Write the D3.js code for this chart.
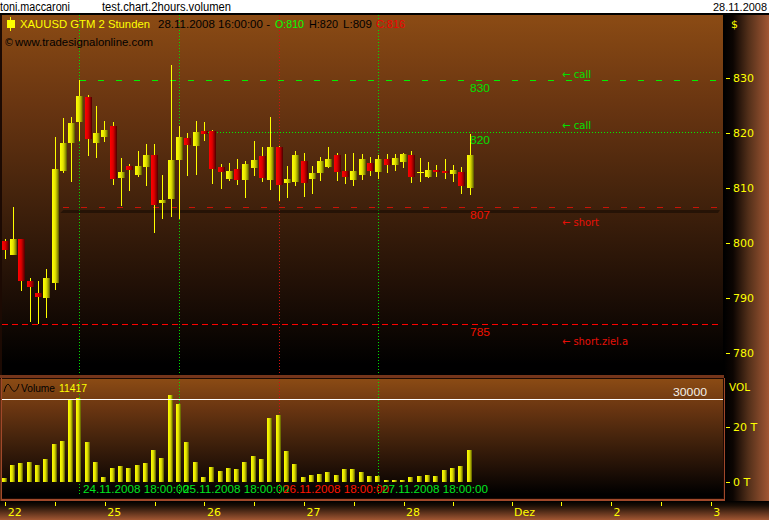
<!DOCTYPE html>
<html><head><meta charset="utf-8">
<script src="https://cdnjs.cloudflare.com/ajax/libs/d3/7.8.5/d3.min.js"></script>
<style>html,body{margin:0;padding:0;background:#fff;overflow:hidden}svg{display:block}text{font-family:"DejaVu Sans";font-size:11px}</style>
</head><body><svg id="c" width="769" height="520"></svg>
<script>
const opens =[800.4,797.8,800.7,793.1,790.9,790.0,792.7,813.1,818.2,822.0,826.5,818.2,819.3,821.3,811.8,814.0,812.4,813.8,816.0,807.3,808.0,815.1,819.1,817.6,820.4,820.4,813.8,811.6,813.5,811.5,813.6,815.8,811.5,817.5,810.9,811.1,814.9,811.6,812.7,813.8,816.0,813.1,811.5,812.4,814.5,812.9,815.3,814.2,814.7,816.0,812.8,812.0,813.3,813.1,812.5,812.9,810.0];
const closes=[798.7,800.7,793.1,792.0,790.2,793.6,813.5,818.2,821.8,826.7,818.9,820.0,820.5,811.6,812.9,813.3,814.0,816.0,806.9,807.8,815.1,819.3,817.8,820.2,819.8,813.5,812.9,813.1,811.5,814.4,815.1,811.8,817.5,810.5,811.6,816.0,810.9,812.7,814.9,815.3,812.9,812.0,813.1,815.3,813.1,815.3,814.2,815.5,816.2,812.0,812.9,813.3,812.9,812.7,813.3,810.4,816.0];
const highs =[800.8,806.5,800.8,793.6,793.1,795.3,819.3,822.7,822.9,829.6,826.9,824.9,822.2,822.0,815.5,814.4,816.7,818.0,818.0,812.4,832.4,821.3,820.0,822.2,822.0,820.5,814.4,814.5,815.3,814.9,818.5,817.5,822.9,817.6,814.0,816.7,816.4,814.0,815.6,817.5,816.4,816.2,816.4,816.2,815.6,816.0,816.2,816.2,816.4,816.7,815.5,814.7,814.2,815.3,814.2,813.8,819.8];
const lows  =[797.1,797.8,791.3,785.6,785.3,786.4,791.5,812.7,811.1,818.5,815.8,815.5,818.4,810.5,806.7,809.5,812.0,810.4,801.8,804.4,804.7,804.4,812.2,812.4,818.5,810.7,809.8,811.3,810.5,808.2,812.2,811.1,809.6,807.6,808.2,810.4,808.4,808.9,811.3,813.6,811.3,810.7,810.4,811.5,812.2,811.6,812.7,813.1,813.6,810.9,811.1,811.8,812.0,811.6,811.1,808.9,808.7];
const volumes=[1500,6200,6900,7300,6200,8400,13800,14900,29800,30500,14500,7300,1800,5100,5800,5100,6200,6900,11600,8700,31600,28400,14500,7300,1800,5500,4000,5100,4700,7300,9500,8400,23300,24400,11300,6500,1800,2500,2900,3600,2500,4700,4700,3600,2200,2200,700,700,700,1800,2200,2500,2200,4400,5100,5800,11417];

const priceTicks=[780,790,800,810,820,830];
const volTicks=[0,20000];
const timeTickIdx=[0,6,12,18,24,30,36,42,48,54,61,67,73,79,85];
const timeTickLabels=["22","","25","","26","","27","","28","","Dez","","2","","3"];
const levels=[829.6,820.1,806.5,785.2];
const levelLabels=["830","820","807","785"];
const levelStartIdx=[9,23,7,-0.4];
const levelColors=["#00f000","#00f000","#c81408","#ff0000"];
const levelDash=["6 12","1 2","6 12","6 4"];
const levelNotes=["← call","← call","← short","← short.ziel.a"];
const sessionIdx=[9,21,33,45];
const sessionLabels=["24.11.2008 18:00:00","25.11.2008 18:00:00","26.11.2008 18:00:00","27.11.2008 18:00:00"];
const sessionColors=["#00e620","#00e620","#ff1400","#00e620"];
const volumeLimit=30000;

const svg=d3.select("#c");
const x=d3.scaleLinear().domain([0,85]).range([5.2,710.7]);
const px=i=>Math.floor(x(i));
const y=d3.scaleLinear().domain([780,830]).range([353,78]);
const yv=d3.scaleLinear().domain([0,30000]).range([481.7,399.2]);

const defs=svg.append("defs");
function grad(id,x2,y2,stops){
  const g=defs.append("linearGradient").attr("id",id).attr("x1",0).attr("y1",0).attr("x2",x2).attr("y2",y2);
  stops.forEach(s=>g.append("stop").attr("offset",s[0]).attr("stop-color",s[1]));
}
const panelStops=[[0,"#8b4b14"],[.25,"#693511"],[.5,"#44230c"],[.75,"#211006"],[.97,"#000"]];
grad("panel",0,1,panelStops);
grad("side",1,0,[[0,"#000"],[.2,"#0c0502"],[.55,"#54301a"],[1,"#a25733"]]);
grad("bottom",0,1,[[0,"#000"],[.25,"#1c0f06"],[1,"#a25733"]]);
grad("yel",1,0,[[0,"#ffff00"],[.45,"#e4e400"],[.75,"#a0a000"],[1,"#505000"]]);
grad("red",1,0,[[0,"#ff0000"],[.45,"#dc0000"],[.75,"#900000"],[1,"#480000"]]);

const LIB="Liberation Sans";
const rect=(g,a,b,w,h,f)=>g.append("rect").attr("x",a).attr("y",b).attr("width",w).attr("height",h).attr("fill",f).attr("shape-rendering","crispEdges");
const txt=(g,a,b,s,f,o={})=>{const t=g.append("text").attr("x",a).attr("y",b).attr("fill",f).text(s);
  if(o.len)t.attr("textLength",o.len).attr("lengthAdjust","spacingAndGlyphs");
  if(o.font)t.style("font-family",o.font); if(o.size)t.style("font-size",o.size+"px"); return t;};

// frame
rect(svg,0,0,769,13,"#fff");
rect(svg,0,13,769,2,"#000");
rect(svg,0,15,769,486,"#5e2c12");
rect(svg,0,15,2,360,"#1c0a03");
rect(svg,724,15,45,486,"url(#side)");
rect(svg,2,15,721,360,"url(#panel)");
rect(svg,723,15,1,360,"#000");
rect(svg,0,375,724,3,"#75351a");
rect(svg,0,378,725,1,"#1c0a03");
rect(svg,1,378,724,123,"#a0482a");
rect(svg,2,378,722,121,"#1c0a03");
rect(svg,2,379,721,119,"url(#panel)");
rect(svg,0,501,769,19,"url(#bottom)");

// header strip text
txt(svg,0,10.5,"toni.maccaroni","#000",{font:LIB,size:12,len:70});
txt(svg,102,10.5,"test.chart.2hours.volumen","#000",{font:LIB,size:12,len:129});
txt(svg,713,10.5,"28.11.2008","#000",{font:LIB,size:11,len:54});

// session verticals
const vert=svg.append("g");
sessionIdx.forEach((d,k)=>{
  [[15,375],[379,495]].forEach(r=>vert.append("line").attr("x1",px(d)+.5).attr("x2",px(d)+.5).attr("y1",r[0]).attr("y2",r[1])
    .attr("stroke",k==2?"#d21010":"#00e000").attr("stroke-dasharray","1 2").attr("shape-rendering","crispEdges"));
});

// shadow band below the 807 level
const bandY=y(806.0);
svg.append("path").attr("d",d3.line()([[x(levelStartIdx[2])-3,bandY+3],[x(levelStartIdx[2]),bandY],[720,bandY],[718,bandY+3]])+"Z").attr("fill","#000").attr("fill-opacity",.38);

// levels
const lv=svg.append("g");
levels.forEach((v,k)=>{
  lv.append("line").attr("x1",x(levelStartIdx[k])).attr("x2",720).attr("y1",Math.round(y(v))+.5).attr("y2",Math.round(y(v))+.5)
    .attr("stroke",levelColors[k]).attr("stroke-dasharray",levelDash[k]).attr("shape-rendering","crispEdges");
});

// candles
const candles=svg.append("g");
opens.forEach((o,i)=>{
  const c=closes[i],up=c>=o,cx=px(i);
  rect(candles,cx,Math.round(y(highs[i])),1,Math.round(y(lows[i]))-Math.round(y(highs[i])),"#ffff00");
  const t=Math.round(y(Math.max(o,c))),b=Math.round(y(Math.min(o,c)));
  rect(candles,cx-3,t,7,Math.max(1,b-t),up?(b-t<=1?"#ffff00":"url(#yel)"):"url(#red)");
});

// volume
const vb=svg.append("g");
volumes.forEach((v,i)=>{
  const cx=px(i),t=Math.round(yv(v));
  rect(vb,cx-3,t,5,482-t,"url(#yel)");
});
rect(svg,2,Math.round(yv(volumeLimit)),721,1,"#fff");
txt(svg,673,396,volumeLimit,"#f4f0e8",{font:LIB,len:34});

// level labels
levels.forEach((v,k)=>{
  txt(svg,470,[92,144,219,336][k],levelLabels[k],k<2?"#00e000":"#f01000",{font:LIB,len:20});
  txt(svg,562,[78,129,226,345][k],levelNotes[k],k<2?"#00e000":"#e81008",{len:[29,29,37,66][k]});
});

// legend
rect(svg,10,17,1,14,"#ffff00");rect(svg,7,20,8,8,"#ffff00");
txt(svg,20,28,"XAUUSD GTM 2 Stunden","#ffff00",{font:LIB,len:130});
txt(svg,158,28,"28.11.2008 16:00:00 -","#000",{font:LIB,len:112});
txt(svg,275,28,"O:810","#00ff00",{font:LIB,len:29});
txt(svg,309,28,"H:820","#000",{font:LIB,len:29});
txt(svg,343,28,"L:809","#000",{font:LIB,len:29});
txt(svg,376,28,"C:816","#f00000",{font:LIB,len:29});
txt(svg,4,46,"©","#000",{size:10});
txt(svg,15,46,"www.tradesignalonline.com","#000",{font:LIB,len:138});

svg.append("path").attr("d","M4 392C7 381 9 384 11 388S16 394 19 384").attr("fill","none").attr("stroke","#000");
txt(svg,21,392,"Volume","#000",{font:LIB,len:34});
txt(svg,59,392,"11417","#ffff00",{font:LIB,len:28});

// date labels
sessionIdx.forEach((d,k)=>txt(svg,px(d)+4,493,sessionLabels[k],sessionColors[k],{font:LIB,len:106}));

// axes
function style(g){g.select(".domain").remove();g.selectAll("line").attr("stroke","#ffff00").attr("shape-rendering","crispEdges");
  g.selectAll("text").attr("fill","#ffff00").style("font-size","11px");}
svg.append("g").attr("transform","translate(726,0)").call(d3.axisRight(y).tickValues(priceTicks).tickSize(4).tickPadding(3)).call(style);
svg.append("g").attr("transform","translate(726,0)").call(d3.axisRight(yv).tickValues(volTicks).tickSize(4).tickPadding(3).tickFormat(d=>(d/1000)+" T")).call(style);
txt(svg,731,28,"$","#ffff00");
txt(svg,729,391,"VOL","#ffff00",{len:21});
const tg=svg.append("g").attr("transform","translate(0,502)").call(d3.axisBottom(x).tickValues(timeTickIdx).tickSize(4).tickPadding(4).tickFormat((d,i)=>timeTickLabels[i])).call(style);
tg.selectAll("text").attr("text-anchor","start").attr("dx",2).attr("y",6.5);
</script></body></html>
